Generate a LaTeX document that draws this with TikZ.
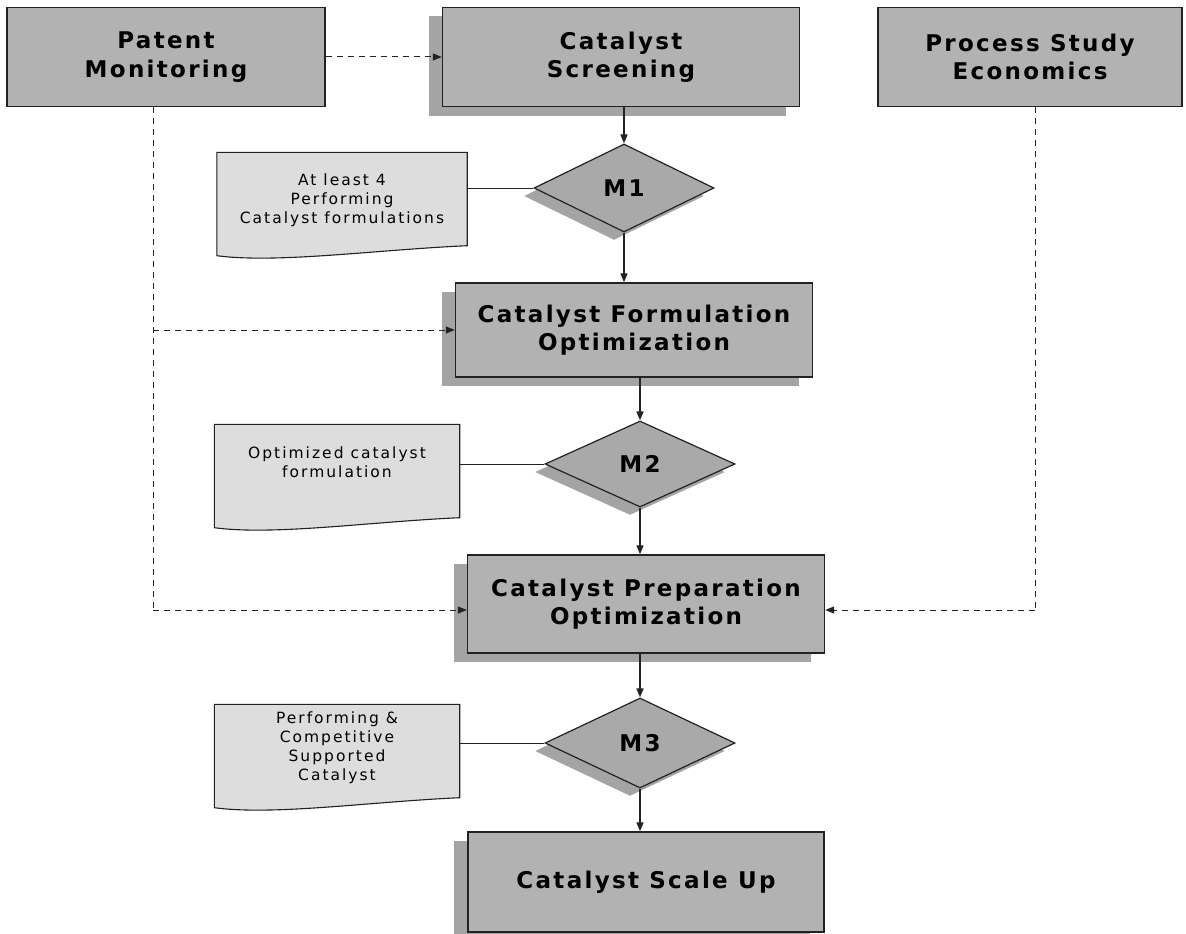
\documentclass[tikz,border=0pt]{standalone}
\usepackage{fontspec}
\setmainfont{DejaVu Sans}
\newfontfamily\headfont[LetterSpace=10]{DejaVu Sans}
\newfontfamily\notefont[LetterSpace=13]{DejaVu Sans}
\usetikzlibrary{arrows.meta,shapes.geometric,shadows}
\definecolor{boxfill}{HTML}{B2B2B2}
\definecolor{shadegray}{HTML}{A4A4A4}
\definecolor{notefill}{HTML}{DDDDDD}
\definecolor{noteshade}{HTML}{9A9A9A}
\definecolor{diafill}{HTML}{A9A9A9}
\definecolor{linegray}{HTML}{222222}

\tikzset{
  headbox/.style={draw=linegray, line width=1.4pt, fill=boxfill, align=center,
    font=\headfont\bfseries\fontsize{23}{28.5}\selectfont, inner sep=0pt},
  mainbox/.style={headbox, drop shadow={shadow xshift=-14pt, shadow yshift=-9pt,
    fill=shadegray, opacity=1}},
  milestone/.style={diamond, draw=linegray, line width=1.2pt, fill=diafill,
    inner sep=0pt, font=\headfont\bfseries\fontsize{23}{26}\selectfont,
    drop shadow={shadow xshift=-10pt, shadow yshift=-8pt, fill=shadegray, opacity=1}},
  notebox/.style={draw=none, fill=none, align=center, inner sep=0pt,
    font=\notefont\fontsize{15.5}{19}\selectfont},
  flow/.style={draw=linegray, line width=1.6pt, -{Triangle[length=9pt,width=7pt]}},
  feed/.style={draw=linegray, line width=1pt, dash pattern=on 6pt off 5pt,
    -{Triangle[length=9pt,width=7pt]}},
  feedline/.style={draw=linegray, line width=1pt, dash pattern=on 6pt off 5pt},
  tie/.style={draw=linegray, line width=1pt},
}

% outline of a document symbol (wavy bottom) around a node
\newcommand\notepath[1]{%
  (#1.north west) -- (#1.north east) -- ([yshift=12pt]#1.south east)
  .. controls ([xshift=-90pt,yshift=8pt]#1.south east)
  and ([xshift=60pt,yshift=-6pt]#1.south west) .. ([yshift=2pt]#1.south west) -- cycle}
\newcommand\drawnote[1]{%
  \begin{scope}[shift={(-3pt,-3pt)}]
    \fill[noteshade] \notepath{#1};
  \end{scope}
  \filldraw[fill=notefill, draw=linegray, line width=1.1pt] \notepath{#1};}

\begin{document}
\begin{tikzpicture}[x=1pt, y=-1pt]
\useasboundingbox (0,0) rectangle (1186,934);
\fill[white] (0,0) rectangle (1186,934);

% top row
\node[headbox, minimum width=318pt, minimum height=99pt] (patent) at (166,57)
  {Patent\\Monitoring};
\node[mainbox, minimum width=357pt, minimum height=99pt] (screen) at (621,57)
  {Catalyst\\Screening};
\node[headbox, minimum width=304pt, minimum height=99pt] (econ) at (1030,57)
  {Process Study\\Economics};

% main column
\node[milestone, minimum width=180pt, minimum height=88pt] (m1) at (624,188) {M1};
\node[mainbox, minimum width=357pt, minimum height=94pt] (form) at (634,330)
  {Catalyst Formulation\\Optimization};
\node[milestone, minimum width=190pt, minimum height=86pt] (m2) at (640,464) {M2};
\node[mainbox, minimum width=357pt, minimum height=98pt] (prep) at (646,604)
  {Catalyst Preparation\\Optimization};
\node[milestone, minimum width=190pt, minimum height=90pt] (m3) at (640,743) {M3};
\node[mainbox, minimum width=356pt, minimum height=100pt] (scale) at (646,882)
  {Catalyst Scale Up};

% milestone notes
\node[notebox, minimum width=250pt, minimum height=105pt] (n1) at (342,205) {};
\drawnote{n1}
\node[notebox] (n1t) at (342,200) {At least 4\\Performing\\Catalyst formulations};
\node[notebox, minimum width=245pt, minimum height=105pt] (n2) at (337,477) {};
\drawnote{n2}
\node[notebox] (n2t) at (337,462) {Optimized catalyst\\formulation};
\node[notebox, minimum width=245pt, minimum height=105pt] (n3) at (337,757) {};
\drawnote{n3}
\node[notebox] (n3t) at (337,748) {Performing \&\\Competitive\\Supported\\Catalyst};

% solid flow
\draw[flow] (screen.south -| m1) -- (m1.north);
\draw[flow] (m1.south) -- (m1.south |- form.north);
\draw[flow] (form.south -| m2) -- (m2.north);
\draw[flow] (m2.south) -- (m2.south |- prep.north);
\draw[flow] (prep.south -| m3) -- (m3.north);
\draw[flow] (m3.south) -- (m3.south |- scale.north);

% notes tied to milestones
\draw[tie] (m1.west -| n1.east) -- (m1.west);
\draw[tie] (m2.west -| n2.east) -- (m2.west);
\draw[tie] (m3.west -| n3.east) -- (m3.west);

% dashed feeds
\coordinate (pk) at (153,610);
\coordinate (ek) at (1035,610);
\draw[feed] (patent.east) -- (patent.east -| screen.west);
\draw[feedline] (patent.south -| pk) -- (pk);
\draw[feed] (pk) -- (pk -| prep.west);
\draw[feed] (pk |- form.west) -- (form.west);
\draw[feedline] (econ.south -| ek) -- (ek);
\draw[feed] (ek) -- (ek -| prep.east);
\end{tikzpicture}
\end{document}
